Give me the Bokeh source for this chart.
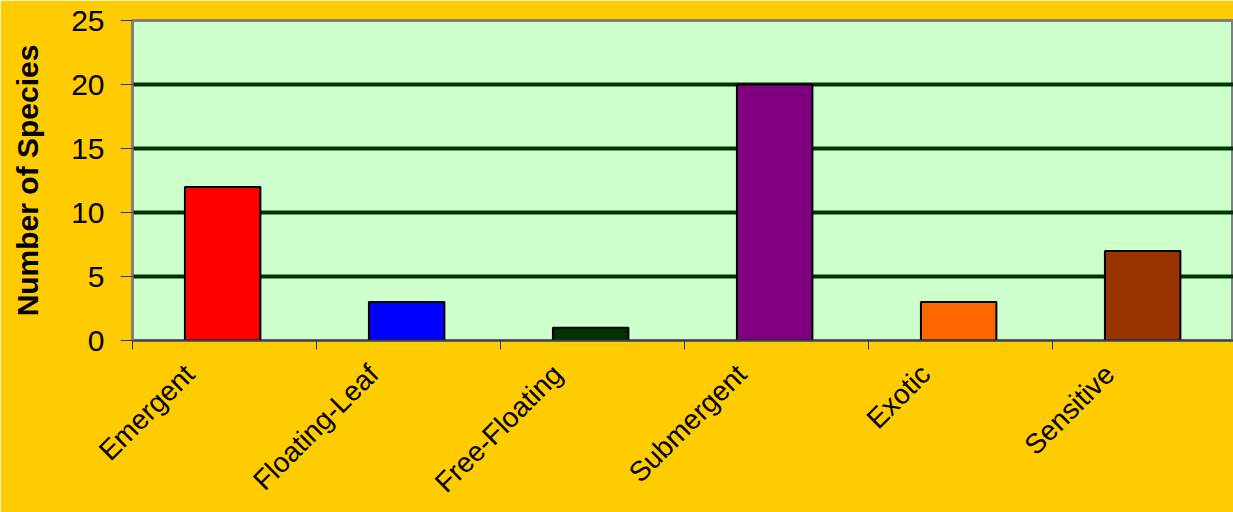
from bokeh.plotting import figure
from bokeh.models import FixedTicker, Range1d, ColumnDataSource, CustomJSTickFormatter
from bokeh.embed import file_html
from bokeh.resources import INLINE
import math

categories = ["Emergent", "Floating-Leaf", "Free-Floating", "Submergent", "Exotic", "Sensitive"]
counts = [12, 3, 1, 20, 3, 7]
colors = ["#FF0000", "#0000FF", "#003300", "#800080", "#FF6600", "#993300"]
y_ticks = [0, 5, 10, 15, 20, 25]

centers = [i + 0.49 for i in range(len(categories))]
src = ColumnDataSource(dict(x=centers, top=counts, color=colors, name=categories))

p = figure(width=1233, height=512, output_backend="svg", toolbar_location=None,
           x_range=Range1d(0, 1101 / 184), y_range=Range1d(0, 25),
           min_border_left=132, min_border_top=20, min_border_bottom=172, min_border_right=0)
p.background_fill_color = "#CCFFCC"
p.border_fill_color = "#FFCC00"
p.outline_line_color = "#808080"
p.outline_line_width = 3

p.vbar(x="x", top="top", bottom=0, width=0.41, source=src, fill_color="color",
       line_color="black", line_width=2)

# grid
p.xgrid.visible = False
p.ygrid.ticker = FixedTicker(ticks=[5, 10, 15, 20])
p.ygrid.grid_line_color = "#003300"
p.ygrid.grid_line_width = 4
p.ygrid.level = "underlay"

# y axis
p.yaxis.ticker = FixedTicker(ticks=y_ticks)
p.yaxis.axis_label = "Number of Species"
p.yaxis.axis_label_text_font = "Liberation Sans"
p.yaxis.axis_label_text_font_style = "bold"
p.yaxis.axis_label_text_font_size = "30px"
p.yaxis.axis_label_text_color = "black"
p.yaxis.axis_label_standoff = 24
p.yaxis.major_label_text_font = "Liberation Sans"
p.yaxis.major_label_text_font_size = "30px"
p.yaxis.major_label_text_color = "black"
p.yaxis.major_label_standoff = 16
p.yaxis.major_tick_out = 12
p.yaxis.major_tick_in = 0
p.yaxis.major_tick_line_color = "#333333"
p.yaxis.minor_tick_line_color = None
p.yaxis.axis_line_color = "#808080"
p.yaxis.axis_line_width = 2

# x axis: ticks at category boundaries, labels near category centres
shift = 0.19
p.xaxis.ticker = FixedTicker(ticks=[i + 0.5 - shift for i in range(len(categories))],
                             minor_ticks=list(range(len(categories) + 1)))
p.xaxis.formatter = CustomJSTickFormatter(args=dict(cats=categories, shift=shift),
                                          code="return cats[Math.round(tick - 0.5 + shift)];")
p.xaxis.major_label_orientation = math.pi / 4
p.xaxis.major_label_text_font = "Liberation Sans"
p.xaxis.major_label_text_font_size = "28px"
p.xaxis.major_label_text_color = "black"
p.xaxis.major_label_standoff = 20
p.xaxis.major_tick_out = 0
p.xaxis.major_tick_in = 0
p.xaxis.minor_tick_out = 9
p.xaxis.minor_tick_in = 0
p.xaxis.minor_tick_line_color = "#333333"
p.xaxis.axis_line_color = "#404040"
p.xaxis.axis_line_width = 2

open("out.html", "w").write(file_html(p, INLINE))
